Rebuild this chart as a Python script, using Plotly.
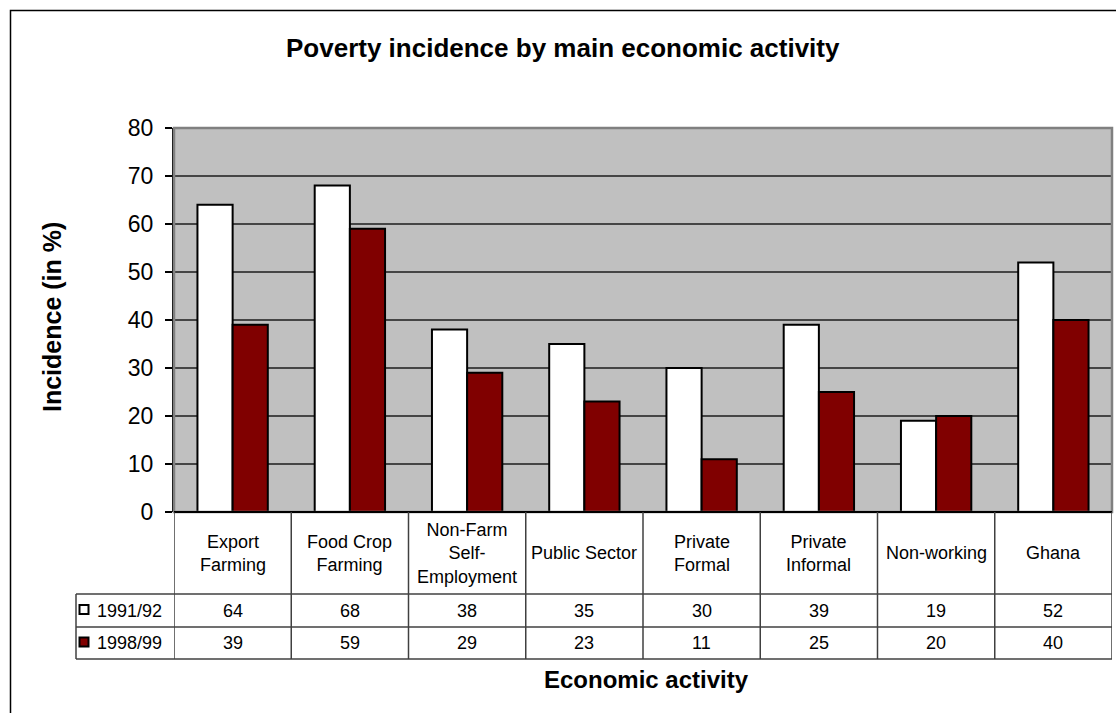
import plotly.graph_objects as go

# ---- data -------------------------------------------------------------
categories = [
    "Export Farming", "Food Crop Farming", "Non-Farm Self-Employment",
    "Public Sector", "Private Formal", "Private Informal", "Non-working", "Ghana",
]
category_labels = [
    "Export<br>Farming", "Food Crop<br>Farming", "Non-Farm<br>Self-<br>Employment",
    "Public Sector", "Private<br>Formal", "Private<br>Informal", "Non-working", "Ghana",
]
series_names = ["1991/92", "1998/99"]
incidence_1991 = [64, 68, 38, 35, 30, 39, 19, 52]
incidence_1998 = [39, 59, 29, 23, 11, 25, 20, 40]
y_ticks = [0, 10, 20, 30, 40, 50, 60, 70, 80]

series_values = [incidence_1991, incidence_1998]
series_colors = ["#FFFFFF", "#800000"]

# ---- page geometry (pixels) ------------------------------------------
W, H = 1116, 713
PLOT_L, PLOT_R, PLOT_T, PLOT_B = 174, 1112, 128, 512
FONT = "Liberation Sans, Arial, sans-serif"
TABLE_FONT = 18


def px_x(px):
    return (px - PLOT_L) / (PLOT_R - PLOT_L)


def px_y(py):
    return (PLOT_B - py) / (PLOT_B - PLOT_T)


fig = go.Figure()
for name, vals, col in zip(series_names, series_values, series_colors):
    fig.add_trace(go.Bar(
        x=categories, y=vals, name=name,
        marker=dict(color=col, line=dict(color="black", width=2)),
        showlegend=False,
    ))

shapes = []
annotations = []

# outer chart frame
shapes.append(dict(type="rect", xref="paper", yref="paper",
                   x0=px_x(10.5), x1=px_x(1140), y0=px_y(10.5), y1=px_y(740),
                   line=dict(color="black", width=1.5), layer="below"))

# plot-area frame
shapes.append(dict(type="rect", xref="paper", yref="paper",
                   x0=0, x1=1, y0=0, y1=1,
                   line=dict(color="#808080", width=2.5), layer="above"))

# data table
ROW_LABEL_BOTTOM = 594
ROW1_BOTTOM = 627
ROW2_BOTTOM = 659
TABLE_LEFT = 76
line_style = dict(color="#404040", width=1.5)

shapes.append(dict(type="line", xref="paper", yref="paper",
                   x0=0, x1=1, y0=0, y1=0, line=dict(color="black", width=2)))
for yy in (ROW_LABEL_BOTTOM, ROW1_BOTTOM, ROW2_BOTTOM):
    shapes.append(dict(type="line", xref="paper", yref="paper",
                       x0=px_x(TABLE_LEFT), x1=1, y0=px_y(yy), y1=px_y(yy),
                       line=line_style))
for i in range(len(categories) + 1):
    shapes.append(dict(type="line", xref="x", yref="paper",
                       x0=i - 0.5, x1=i - 0.5, y0=0, y1=px_y(ROW2_BOTTOM),
                       line=line_style))
shapes.append(dict(type="line", xref="paper", yref="paper",
                   x0=px_x(TABLE_LEFT), x1=px_x(TABLE_LEFT),
                   y0=px_y(ROW_LABEL_BOTTOM), y1=px_y(ROW2_BOTTOM),
                   line=line_style))

row_centers = [(ROW_LABEL_BOTTOM + ROW1_BOTTOM) / 2, (ROW1_BOTTOM + ROW2_BOTTOM) / 2]

for cat, lab in zip(categories, category_labels):
    annotations.append(dict(x=cat, xref="x", y=px_y(553), yref="paper",
                            text=lab, showarrow=False, align="center",
                            xanchor="center", yanchor="middle",
                            font=dict(family=FONT, size=TABLE_FONT, color="black")))

for r, (name, vals, col) in enumerate(zip(series_names, series_values, series_colors)):
    cy = row_centers[r]
    for cat, v in zip(categories, vals):
        annotations.append(dict(x=cat, xref="x", y=px_y(cy), yref="paper",
                                text=str(v), showarrow=False,
                                xanchor="center", yanchor="middle",
                                font=dict(family=FONT, size=TABLE_FONT, color="black")))
    # legend key
    shapes.append(dict(type="rect", xref="paper", yref="paper",
                       x0=px_x(79.5), x1=px_x(88.5),
                       y0=px_y(cy - 5.5), y1=px_y(cy + 3.5),
                       fillcolor=col, line=dict(color="black", width=2)))
    annotations.append(dict(x=px_x(95), xref="paper", y=px_y(cy), yref="paper",
                            text=name, showarrow=False,
                            xanchor="left", yanchor="middle",
                            font=dict(family=FONT, size=TABLE_FONT, color="black")))

# titles
annotations.append(dict(x=px_x(563), xref="paper", y=px_y(48), yref="paper",
                        text="<b>Poverty incidence by main economic activity</b>",
                        showarrow=False, xanchor="center", yanchor="middle",
                        font=dict(family=FONT, size=26, color="black")))
annotations.append(dict(x=px_x(52), xref="paper", y=px_y(317), yref="paper",
                        text="<b>Incidence (in %)</b>", textangle=-90,
                        showarrow=False, xanchor="center", yanchor="middle",
                        font=dict(family=FONT, size=25, color="black")))
annotations.append(dict(x=px_x(646), xref="paper", y=px_y(679), yref="paper",
                        text="<b>Economic activity</b>",
                        showarrow=False, xanchor="center", yanchor="middle",
                        font=dict(family=FONT, size=24, color="black")))

fig.update_layout(
    width=W, height=H,
    margin=dict(l=PLOT_L, r=W - PLOT_R, t=PLOT_T, b=H - PLOT_B, pad=0),
    paper_bgcolor="white",
    plot_bgcolor="#C0C0C0",
    barmode="group",
    bargap=0.4,
    bargroupgap=0,
    font=dict(family=FONT, color="black"),
    shapes=shapes,
    annotations=annotations,
    xaxis=dict(range=[-0.5, len(categories) - 0.5], showticklabels=False,
               showgrid=False, zeroline=False, showline=False, ticks=""),
    yaxis=dict(range=[0, 80], tickvals=y_ticks, ticks="outside", ticklen=7,
               tickwidth=1.5, tickcolor="black",
               showgrid=True, gridcolor="#454545", gridwidth=1.5,
               zeroline=False, showline=True, linecolor="black", linewidth=2,
               tickfont=dict(family=FONT, size=23, color="black"),
               ticklabelstandoff=7),
)

fig.write_html("out.html")
